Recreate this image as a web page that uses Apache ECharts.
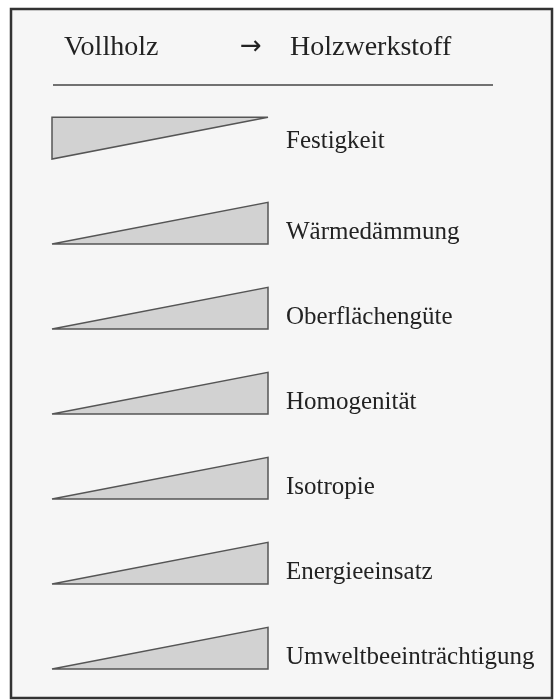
<!DOCTYPE html>
<html>
<head>
<meta charset="utf-8">
<script src="https://cdn.jsdelivr.net/npm/echarts@6/dist/echarts.min.js"></script>
<style>
  html, body { margin: 0; padding: 0; background: #fff; }
  #chart { width: 554px; height: 700px; }
</style>
</head>
<body>
<div id="chart"></div>
<script>
// Eigenschaften beim Übergang Vollholz -> Holzwerkstoff
const properties = ['Festigkeit', 'Wärmedämmung', 'Oberflächengüte', 'Homogenität', 'Isotropie', 'Energieeinsatz', 'Umweltbeeinträchtigung'];
// Ausprägung links (Vollholz) und rechts (Holzwerkstoff), 0 = gering, 1 = hoch
const levelVollholz = [1, 0, 0, 0, 0, 0, 0];
const levelWerkstoff = [0, 1, 1, 1, 1, 1, 1];

const headerLeft = 'Vollholz';
const headerRight = 'Holzwerkstoff';

const chart = echarts.init(document.getElementById('chart'));

const serif = '"Liberation Serif", "DejaVu Serif", serif';
const textColor = '#222';

const wedgeData = properties.map((name, i) => [i, levelVollholz[i], levelWerkstoff[i]]);

const renderWedge = (params, api) => {
  const i = api.value(0);
  const s = api.value(1);
  const e = api.value(2);
  const left = api.coord([0, i]);
  const right = api.coord([1, i]);
  const unit = api.size([0, 1])[1] * 0.49;
  let points;
  let labelY;
  if (s > e) {
    // abnehmend: flache Kante oben
    const top = left[1] - unit;
    points = [[left[0], top], [right[0], top], [right[0], top + e * unit], [left[0], top + s * unit]];
    labelY = left[1] - 18;
  } else {
    points = [[left[0], left[1]], [right[0], right[1]], [right[0], right[1] - e * unit], [left[0], left[1] - s * unit]];
    labelY = left[1] - 12;
  }
  return {
    type: 'group',
    children: [
      {
        type: 'polygon',
        shape: { points: points },
        style: { fill: '#d2d2d2', stroke: '#555', lineWidth: 1.5, lineJoin: 'miter' }
      },
      {
        type: 'text',
        x: right[0] + 18,
        y: labelY,
        style: {
          text: properties[i],
          font: '25px ' + serif,
          fill: textColor,
          verticalAlign: 'middle',
          align: 'left'
        }
      }
    ]
  };
};

chart.setOption({
  backgroundColor: '#fff',
  animation: false,
  graphic: [
    {
      type: 'rect',
      z: -10,
      shape: { x: 11, y: 9, width: 541, height: 689 },
      style: { fill: '#f6f6f6', stroke: '#333', lineWidth: 2.5 }
    },
    {
      type: 'text',
      x: 64, y: 48,
      style: { text: headerLeft, font: '28px ' + serif, fill: textColor, verticalAlign: 'middle' }
    },
    {
      type: 'text',
      x: 240, y: 47,
      style: { text: '→', font: '26px "DejaVu Sans", sans-serif', fill: textColor, verticalAlign: 'middle' }
    },
    {
      type: 'text',
      x: 290, y: 48,
      style: { text: headerRight, font: '28px ' + serif, fill: textColor, verticalAlign: 'middle' }
    },
    {
      type: 'line',
      shape: { x1: 53, y1: 85, x2: 493, y2: 85 },
      style: { stroke: '#444', lineWidth: 1.5 }
    }
  ],
  grid: { left: 52, right: 286, top: 159, bottom: 31 },
  xAxis: { type: 'value', min: 0, max: 1, show: false },
  yAxis: { type: 'value', min: 0, max: 6, inverse: true, show: false },
  series: [
    {
      type: 'custom',
      renderItem: renderWedge,
      data: wedgeData,
      encode: { x: [], y: 0 },
      clip: false
    }
  ]
});
</script>
</body>
</html>
